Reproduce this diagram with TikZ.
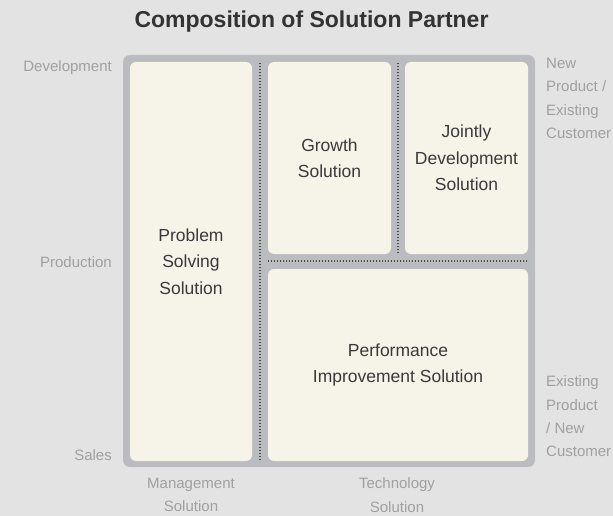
\documentclass[tikz,border=0pt]{standalone}
\usepackage{fontspec}
\setmainfont{Liberation Sans}
\definecolor{bgc}{HTML}{E3E3E3}
\definecolor{framec}{HTML}{BBBCC0}
\definecolor{boxc}{HTML}{F6F3E8}
\definecolor{boxtext}{HTML}{3A3A3A}
\definecolor{labelc}{HTML}{A0A0A0}
\definecolor{titlec}{HTML}{333333}
\definecolor{dotc}{HTML}{4A4A4A}
\begin{document}
\begin{tikzpicture}[x=1pt,y=-1pt,
  cell/.style={draw=none,fill=boxc,rounded corners=6pt,inner sep=0pt,align=center,
    text=boxtext,font=\fontsize{17.5}{26.5}\selectfont},
  side/.style={inner sep=0pt,text=labelc,font=\fontsize{15}{23.3}\selectfont},
  divider/.style={draw=dotc,line width=1.3pt,dash pattern=on 1.3pt off 1.7pt}]
\fill[bgc] (0,0) rectangle (613,516);
\useasboundingbox (0,0) rectangle (613,516);
\node[inner sep=0pt,text=titlec,font=\fontsize{23}{26}\selectfont\bfseries] (title) at (311.5,22) {Composition of Solution Partner};
\fill[framec,rounded corners=7pt] (123,55) rectangle (535,467);
\node[cell,minimum width=122pt,minimum height=399pt] (problem) at (191,261.5) {Problem\\Solving\\Solution};
\node[cell,minimum width=123pt,minimum height=192pt] (growth) at (329.5,158) {Growth\\Solution};
\node[cell,minimum width=123pt,minimum height=192pt] (jointly) at (466.5,158) {Jointly\\Development\\Solution};
\node[cell,minimum width=260pt,minimum height=192pt] (perf) at (398,365) {Performance\\Improvement Solution};
\draw[divider] (260,63) -- (260,460);
\draw[divider] (398,63) -- (398,253);
\draw[divider] (268,261) -- (528,261);
\node[side,anchor=east] (dev) at (112,68) {Development};
\node[side,anchor=east] (prod) at (112,262) {Production};
\node[side,anchor=east] (sales) at (112,455) {Sales};
\node[side,anchor=west,align=left] (npec) at (546,98.5) {New\\Product /\\Existing\\Customer};
\node[side,anchor=west,align=left] (epnc) at (546,416.5) {Existing\\Product\\/ New\\Customer};
\node[side,align=center] (mgmt) at (191,495) {Management\\Solution};
\node[side,align=center] (tech) at (397,495) {Technology\\Solution};
\end{tikzpicture}
\end{document}
